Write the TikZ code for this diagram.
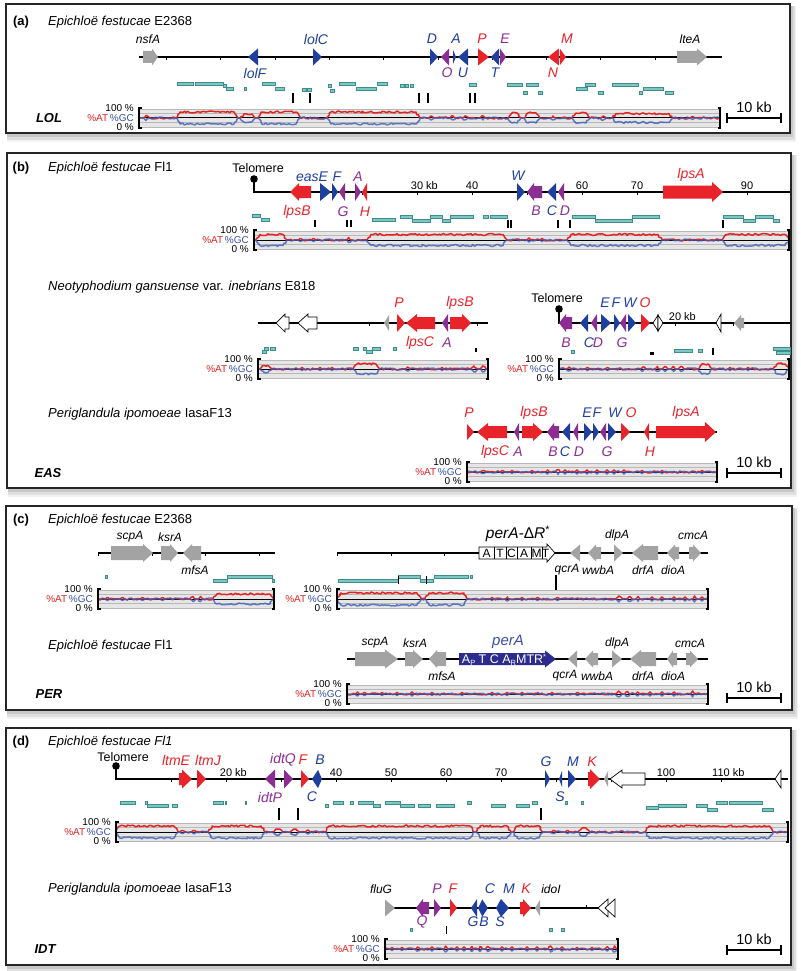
\documentclass[tikz,border=0pt]{standalone}
\usepackage{fontspec}
\setmainfont{Liberation Sans}
\usetikzlibrary{decorations.pathmorphing}
\definecolor{gred}{HTML}{E8232A}
\definecolor{gblue}{HTML}{1F3F9F}
\definecolor{gpurple}{HTML}{8B2D93}
\definecolor{ggrey}{HTML}{A3A3A3}
\definecolor{tealf}{HTML}{7CC8C4}
\definecolor{teald}{HTML}{3F8C8A}
\definecolor{navy}{HTML}{2C2C8E}
\definecolor{pred}{HTML}{E52222}
\definecolor{pblue}{HTML}{3A5BB8}
\definecolor{lblue}{HTML}{3A50A8}
\definecolor{bandgrey}{HTML}{E6E6E6}
\definecolor{bandline}{HTML}{B8B8B8}
% gene triangle: base, tip, y, half-height, style
\newcommand\gtri[5]{\path[#5] (#1,#3-#4) -- (#2,#3) -- (#1,#3+#4) -- cycle;}
% gene arrow: base, headstart, tip, y, body half, head half, style
\newcommand\garr[7]{\path[#7] (#1,#4-#5) -- (#2,#4-#5) -- (#2,#4-#6) -- (#3,#4) -- (#2,#4+#6) -- (#2,#4+#5) -- (#1,#4+#5) -- cycle;}
% contig box
\newcommand\ctg[3]{\filldraw[fill=tealf, draw=teald, line width=0.4] (#1,#3-1.6) rectangle (#2,#3+1.6);}
% black bar
\newcommand\blk[3]{\draw[line width=1.4] (#1,#2) -- (#1,#3);}
% GC plot: x0, x1, yc, list a/b/h
\newcommand\gcplot[4]{%
  \fill[bandgrey] (#1,#3-9) rectangle (#2,#3+9);
  \foreach \yy in {-9,-4.5,4.5,9}{\draw[bandline, line width=0.5] (#1,#3+\yy) -- (#2,#3+\yy);}
  \draw[line width=1.0] (#1,#3) -- (#2,#3);
  \draw[pred, curve] (#1,#3) foreach \a/\b/\h in {#4}{ -- (\a,#3) -- ({\a+min(4,0.5*(\b-\a))},{#3-\h}) -- ({\b-min(4,0.5*(\b-\a))},{#3-\h}) -- (\b,#3)} -- (#2,#3);
  \draw[pblue, curve, opacity=0.8] (#1,#3) foreach \a/\b/\h in {#4}{ -- (\a,#3) -- ({\a+min(4,0.5*(\b-\a))},{#3+\h}) -- ({\b-min(4,0.5*(\b-\a))},{#3+\h}) -- (\b,#3)} -- (#2,#3);
  \draw[line width=1.2] (#1+2.5,#3-10) -- (#1,#3-10) -- (#1,#3+10) -- (#1+2.5,#3+10);
  \draw[line width=1.2] (#2-2.5,#3-10) -- (#2,#3-10) -- (#2,#3+10) -- (#2-2.5,#3+10);
  \node[plab] at (#1-5,#3-9.5) {100 \%};
  \node[plab] at (#1-5,#3) {\textcolor{pred}{\%AT}\,\textcolor{lblue}{\%GC}};
  \node[plab] at (#1-5,#3+9.5) {0 \%};
}
\newcommand\panelbox[4]{%
  \fill[black,opacity=0.05] (#1+1,#2+2) rectangle (#3+6,#4+9);
  \fill[black,opacity=0.08] (#1+1,#2+2) rectangle (#3+4.5,#4+6.5);
  \fill[black,opacity=0.10] (#1+1,#2+2) rectangle (#3+3,#4+4);
  \fill[white] (#1,#2) rectangle (#3,#4);
  \draw[line width=1.3, black!85] (#1,#2) rectangle (#3,#4);}
\newcommand\scalebar[1]{%
  \draw[line width=1.2] (727,#1) -- (781,#1);
  \draw[line width=1.2] (727,#1-5) -- (727,#1+5) (781,#1-5) -- (781,#1+5);
  \node[kb] at (754,#1-11) {10 kb};}
\begin{document}
\begin{tikzpicture}[x=1pt,y=-1pt,
  glab/.style={inner sep=0pt, font=\fontsize{14}{14}\selectfont\itshape},
  slab/.style={inner sep=0pt, font=\fontsize{12}{12}\selectfont\itshape},
  sp/.style={anchor=west, inner sep=0pt, font=\fontsize{13}{13}\selectfont},
  pl/.style={inner sep=0pt, font=\fontsize{13}{13}\selectfont\bfseries},
  cl/.style={inner sep=0pt, font=\fontsize{13}{13}\selectfont\bfseries\itshape},
  tk/.style={inner sep=0pt, anchor=south, font=\fontsize{11}{11}\selectfont},
  tel/.style={inner sep=0pt, font=\fontsize{12.5}{12.5}\selectfont},
  plab/.style={inner sep=0pt, anchor=east, font=\fontsize{10}{10}\selectfont},
  kb/.style={inner sep=0pt, font=\fontsize{14.5}{14.5}\selectfont},
  axis/.style={line width=1.2},
  curve/.style={line width=1.5, line join=round, decorate, decoration={random steps,segment length=2pt,amplitude=1pt}},
  gr/.style={fill=gred}, gb/.style={fill=gblue}, gp/.style={fill=gpurple},
  gg/.style={fill=ggrey}, wst/.style={fill=white,draw=black,line width=0.7},
  nv/.style={fill=navy}]
\useasboundingbox (0,0) rectangle (800,971);
\fill[white] (0,0) rectangle (800,971);

%================ (a) ================
\panelbox{6}{4}{790}{133}
\node[pl] at (21,22) {(a)};
\node[sp] at (48,22) {\textit{Epichloë festucae} E2368};
\draw[axis] (139,57) -- (722,57);
\foreach \x in {166,220,275,329,383,438,492,546,600,655} \draw[line width=0.9] (\x,57) -- (\x,60);
\garr{143}{152}{158}{57}{6}{8.5}{gg}
\node[slab] at (148,39) {nsfA};
\gtri{258}{248}{57}{8.5}{gb} \node[glab,text=gblue] at (255,73) {lolF};
\gtri{313}{322}{57}{8.5}{gb} \node[glab,text=gblue] at (316,39) {lolC};
\gtri{430}{438}{57}{8.5}{gb} \node[glab,text=gblue] at (432,39) {D};
\gtri{449}{441}{57}{8.5}{gp} \node[glab,text=gpurple] at (447,73) {O};
\gtri{453}{456}{57}{7}{gb}   \node[glab,text=gblue] at (456,39) {A};
\gtri{468}{458}{57}{8.5}{gb} \node[glab,text=gblue] at (463,73) {U};
\gtri{478}{489}{57}{8.5}{gr} \node[glab,text=gred] at (482,39) {P};
\gtri{499}{491}{57}{8.5}{gb} \node[glab,text=gblue] at (495,73) {T};
\gtri{500}{506}{57}{8.5}{gp} \node[glab,text=gpurple] at (505,39) {E};
\gtri{559}{548}{57}{8.5}{gr} \node[glab,text=gred] at (553,73) {N};
\gtri{560}{566}{57}{8}{gr}   \node[glab,text=gred] at (567,39) {M};
\garr{677}{697}{707}{57}{6}{8.5}{gg}
\node[slab] at (690,39) {lteA};
% contigs
\ctg{177}{193}{84}\ctg{195}{223}{84}\ctg{262}{275}{84}\ctg{339}{355}{84}\ctg{377}{387}{84}
\ctg{226}{233}{89}\ctg{275}{284}{89}\ctg{356}{376}{89}
\ctg{223}{226}{86}\ctg{244}{246}{89}\ctg{302}{306}{90}\ctg{307}{311}{90}\ctg{328}{331}{86}\ctg{330}{334}{91}
\ctg{400}{404}{86}\ctg{405}{408}{86}\ctg{410}{413}{86}\ctg{469}{476}{85}
\ctg{507}{522}{85}\ctg{526}{538}{85}\ctg{585}{595}{85}\ctg{612}{638}{85}
\ctg{576}{587}{89}\ctg{643}{663}{89}
\ctg{523}{527}{93}\ctg{538}{542}{93}\ctg{598}{603}{93}\ctg{639}{642}{93}\ctg{665}{673}{93}
\blk{293}{93}{103}\blk{310}{93}{103}\blk{419}{93}{103}\blk{428}{93}{103}\blk{470}{93}{103}\blk{475}{93}{103}
\gcplot{139}{720}{118}{142/150/2.5, 176/238/6, 240/256/4, 258/300/6, 327/420/6, 428/434/2, 450/456/2, 462/468/2, 480/486/2, 508/521/5, 524/540/5, 550/556/2, 572/590/5, 600/606/2, 612/673/4.5, 690/695/1.5}
\node[cl] at (49,118) {LOL};
\scalebar{118}

%================ (b) ================
\panelbox{7}{153}{791}{488}
\node[pl] at (21,168) {(b)};
\node[sp] at (48,168) {\textit{Epichloë festucae} Fl1};
\node[tel] at (258,168) {Telomere};
\fill (254,179) circle (3.8);
\draw[axis] (254,179) -- (254,192) -- (790,192);
\foreach \x in {307,362,417,472,527,582,637,692,747} \draw[line width=0.9] (\x,192) -- (\x,195);
\node[tk] at (417,190) {30\rlap{\ kb}};
\node[tk] at (472,190) {40};
\node[tk] at (582,190) {60};
\node[tk] at (637,190) {70};
\node[tk] at (747,190) {90};
\garr{311}{299}{290}{192}{6}{9}{gr} \node[glab,text=gred] at (297,212) {lpsB};
\gtri{320}{331}{192}{9}{gb} \node[glab,text=gblue] at (312,177) {easE};
\gtri{332}{338}{192}{9}{gb} \node[glab,text=gblue] at (337,177) {F};
\gtri{345}{339}{192}{9}{gp} \node[glab,text=gpurple] at (343,212) {G};
\gtri{355}{361}{192}{9}{gp} \node[glab,text=gpurple] at (358,177) {A};
\gtri{367}{362}{192}{9}{gr} \node[glab,text=gred] at (365,212) {H};
\gtri{517}{525}{192}{9}{gb} \node[glab,text=gblue] at (518,176) {W};
\garr{542}{534}{527}{192}{6}{9}{gp} \node[glab,text=gpurple] at (536,211) {B};
\gtri{556}{547}{192}{9}{gb} \node[glab,text=gblue] at (552,211) {C};
\gtri{564}{558}{192}{9}{gp} \node[glab,text=gpurple] at (565,211) {D};
\garr{663}{712}{723}{192}{6.5}{10}{gr} \node[glab,text=gred] at (691,175) {lpsA};
\ctg{252}{260}{216}\ctg{261}{269}{220}\ctg{372}{395}{220}
\ctg{400}{412}{217}\ctg{412}{430}{221}\ctg{430}{442}{217}\ctg{442}{450}{221}\ctg{450}{473}{217}
\ctg{483}{488}{217}\ctg{490}{507}{217}\ctg{572}{595}{217}\ctg{595}{632}{221}\ctg{632}{659}{217}
\ctg{723}{743}{217}\ctg{743}{755}{221}\ctg{755}{773}{217}\ctg{773}{779}{221}
\blk{315}{220}{227}\blk{347}{220}{227}\blk{351}{220}{227}\blk{508}{220}{228}\blk{511}{220}{228}
\blk{558}{220}{228}\draw[line width=2.4] (570,220) -- (570,228);\blk{723}{220}{228}
\gcplot{254}{789}{240}{256/287/5.5, 298/303/1.5, 311/316/1.5, 345/352/2.5, 367/507/5.5, 527/531/2, 540/544/1.5, 567/662/5.5, 722/789/5.5}

% E818
\node[sp] at (48,287) {\textit{Neotyphodium gansuense} var. \textit{inebrians} E818};
\draw[axis] (258,323) -- (488,323);
\draw[line width=0.9] (369,323) -- (369,326) (477,323) -- (477,326);
\garr{289}{285}{276}{323}{6}{9}{wst}
\garr{317}{308}{298}{323}{6}{9}{wst}
\gtri{389}{384}{323}{8}{gg}
\gtri{397}{405}{323}{9}{gr} \node[glab,text=gred] at (399,303) {P};
\garr{435}{417}{406}{323}{6}{9}{gr} \node[glab,text=gred] at (420,343) {lpsC};
\gtri{448}{442}{323}{9}{gp} \node[glab,text=gpurple] at (447,343) {A};
\garr{450}{462}{471}{323}{6}{9}{gr} \node[glab,text=gred] at (460,303) {lpsB};
\ctg{262}{266}{352}\ctg{264}{268}{349}\ctg{270}{275}{349}
\ctg{353}{358}{349}\ctg{363}{366}{349}\ctg{366}{372}{352}\ctg{372}{380}{349}\ctg{393}{396}{349}
\blk{476}{348}{352}
\gcplot{258}{488}{369}{260/272/3.5, 300/304/1.5, 318/322/1.5, 330/334/1.5, 353/380/5, 405/410/2, 440/444/1.5, 470/478/3, 479/486/3}

\node[tel] at (557,298) {Telomere};
\fill (559,309) circle (3.8);
\draw[axis] (559,309) -- (559,323) -- (790,323);
\draw[line width=0.9] (675,323) -- (675,326) (733,323) -- (733,326);
\node[tk] at (675,321) {20\rlap{\ kb}};
\garr{572}{566}{559}{323}{6}{9}{gp} \node[glab,text=gpurple] at (566,343) {B};
\gtri{588}{580}{323}{9}{gb} \node[glab,text=gblue] at (589,343) {C};
\gtri{597}{591}{323}{9}{gp} \node[glab,text=gpurple] at (598,343) {D};
\gtri{601}{611}{323}{9}{gb} \node[glab,text=gblue] at (605,303) {E};
\gtri{614}{620}{323}{9}{gb} \node[glab,text=gblue] at (616,303) {F};
\gtri{626}{620}{323}{9}{gp} \node[glab,text=gpurple] at (622,343) {G};
\gtri{628}{636}{323}{9}{gb} \node[glab,text=gblue] at (630,303) {W};
\gtri{641}{650}{323}{9}{gr} \node[glab,text=gred] at (645,303) {O};
\gtri{658}{653}{323}{8}{wst}\gtri{658}{663}{323}{8}{wst}
\gtri{721}{716}{323}{9}{wst}
\garr{744}{741}{734}{323}{5}{8}{gg}
\ctg{571}{574}{352}\ctg{674}{692}{351}\ctg{698}{702}{351}\ctg{773}{790}{349}\ctg{776}{790}{353}
\blk{651}{352}{355}\blk{653}{352}{355}\blk{713}{348}{355}
\gcplot{559}{789}{369}{566/572/2, 585/590/1.5, 605/610/1.5, 640/646/2, 655/660/2.5, 662/668/2.5, 671/676/2.5, 678/684/2.5, 698/712/5, 728/732/1.5, 746/750/1.5, 773/789/5}

% IasaF13
\node[sp] at (48,414) {\textit{Periglandula ipomoeae} IasaF13};
\draw[axis] (467,432) -- (717,432);
\gtri{467}{474}{432}{8}{gr} \node[glab,text=gred] at (469,413) {P};
\garr{507}{488}{477}{432}{6}{9}{gr} \node[glab,text=gred] at (495,452) {lpsC};
\gtri{519}{514}{432}{9}{gp} \node[glab,text=gpurple] at (518,452) {A};
\garr{522}{533}{543}{432}{6}{9}{gr} \node[glab,text=gred] at (534,413) {lpsB};
\garr{559}{554}{547}{432}{6}{9}{gp} \node[glab,text=gpurple] at (553,452) {B};
\gtri{570}{562}{432}{9}{gb} \node[glab,text=gblue] at (565,452) {C};
\gtri{578}{573}{432}{9}{gp} \node[glab,text=gpurple] at (579,452) {D};
\gtri{584}{592}{432}{9}{gb} \node[glab,text=gblue] at (587,413) {E};
\gtri{593}{599}{432}{9}{gb} \node[glab,text=gblue] at (597,413) {F};
\gtri{606}{600}{432}{9}{gp} \node[glab,text=gpurple] at (607,452) {G};
\gtri{608}{616}{432}{9}{gb} \node[glab,text=gblue] at (615,413) {W};
\gtri{621}{630}{432}{9}{gr} \node[glab,text=gred] at (631,413) {O};
\gtri{649}{644}{432}{9}{gr} \node[glab,text=gred] at (650,452) {H};
\garr{656}{705}{716}{432}{6}{10}{gr} \node[glab,text=gred] at (686,413) {lpsA};
\gcplot{467}{717}{472}{480/486/1.5, 500/505/1.5, 510/514/1.5, 530/534/1.5, 545/550/2, 556/560/2.5, 563/567/2, 575/579/2, 585/589/2, 595/599/2, 605/609/2, 612/616/2, 622/626/2, 640/644/1.5, 660/664/1.5, 700/704/1.5}
\node[cl] at (48,473) {EAS};
\scalebar{473}

%================ (c) ================
\panelbox{6}{506}{792}{710}
\node[pl] at (21,520) {(c)};
\node[sp] at (48,520) {\textit{Epichloë festucae} E2368};
\draw[axis] (98,553) -- (275,553);
\foreach \x in {98,152,205,259} \draw[line width=0.9] (\x,553) -- (\x,556);
\garr{111}{143}{153}{553}{7}{9}{gg} \node[slab] at (130,537) {scpA};
\garr{161}{170}{178}{553}{7}{9}{gg} \node[slab] at (170,537) {ksrA};
\garr{201}{192}{183}{553}{7}{9}{gg} \node[slab] at (195,570) {mfsA};
\ctg{105}{107}{577}\ctg{213}{227}{581}\ctg{227}{272}{577}\ctg{272}{274}{581}
\gcplot{98}{274}{599}{105/110/1.5, 120/125/1.5, 140/145/1.5, 160/165/1.5, 190/196/2.5, 198/203/2.5, 213/274/5}

\draw[axis] (337,553) -- (708,553);
\foreach \x in {337,391,444} \draw[line width=0.9] (\x,553) -- (\x,556);
\path[wst] (479,547) -- (547,547) -- (547,544) -- (555,553) -- (547,562) -- (547,559) -- (479,559) -- cycle;
\foreach \x in {494,506,517,531,542} \draw[line width=0.7] (\x,547) -- (\x,559);
\foreach \x/\t in {486.5/A,500/T,511.5/C,524/A,536.5/M,545.5/T} \node[inner sep=0pt, font=\fontsize{12}{12}\selectfont] at (\x,553.5) {\t};
\node[inner sep=0pt, font=\fontsize{15.5}{15.5}\selectfont] at (518,534) {\textit{perA-}Δ\textit{R}\textsuperscript{*}};
\gtri{580}{570}{553}{8.5}{gg} \node[slab] at (567,570) {qcrA};
\garr{601}{596}{588}{553}{6}{8.5}{gg} \node[slab] at (598,570) {wwbA};
\gtri{614}{623}{553}{8.5}{gg} \node[slab] at (617,535) {dlpA};
\garr{658}{643}{632}{553}{7}{9}{gg} \node[slab] at (643,570) {drfA};
\garr{679}{675}{667}{553}{6}{8.5}{gg} \node[slab] at (673,570) {dioA};
\garr{689}{693}{701}{553}{6}{8.5}{gg} \node[slab] at (693,535) {cmcA};
\ctg{338}{398}{581}\ctg{398}{420}{577}\ctg{420}{433}{581}\ctg{434}{468}{577}\ctg{470}{472}{577}
\draw[line width=0.6] (398,576) -- (398,584) (426,576) -- (426,584);
\draw[line width=1.2] (556,575) -- (556,590);
\gcplot{337}{708}{599}{337/421/6, 425/468/6, 490/494/1.5, 505/510/2, 520/524/1.5, 535/540/1.5, 555/560/1.5, 615/623/3, 627/632/2.5, 636/640/2.5, 650/654/2, 660/664/2, 672/676/2, 683/687/2, 692/697/3, 700/704/2}

\node[sp] at (48,646) {\textit{Epichloë festucae} Fl1};
\draw[axis] (347,659) -- (708,659);
\garr{355}{385}{398}{659}{7}{9.5}{gg} \node[slab] at (375,643) {scpA};
\garr{405}{413}{423}{659}{7}{9}{gg} \node[slab] at (415,643) {ksrA};
\garr{446}{437}{429}{659}{7}{9}{gg} \node[slab] at (442,676) {mfsA};
\garr{459}{545}{556}{659}{6}{8.5}{nv}
\node[inner sep=0pt, text=white, font=\fontsize{12.5}{12.5}\selectfont] at (504,659.5) {A\raisebox{-0.2ex}{\fontsize{7.5}{7.5}\selectfont P} T C A\raisebox{-0.2ex}{\fontsize{7.5}{7.5}\selectfont R}MTR\raisebox{0.7ex}{\fontsize{7.5}{7.5}\selectfont *}};
\node[inner sep=0pt, text=lblue, font=\fontsize{15}{15}\selectfont\itshape] at (508,642) {perA};
\gtri{577}{568}{659}{8.5}{gg} \node[slab] at (565,676) {qcrA};
\garr{598}{593}{585}{659}{6}{8.5}{gg} \node[slab] at (597,676) {wwbA};
\gtri{612}{622}{659}{8.5}{gg} \node[slab] at (617,643) {dlpA};
\garr{656}{641}{630}{659}{7}{9}{gg} \node[slab] at (643,676) {drfA};
\garr{677}{673}{667}{659}{6}{8.5}{gg} \node[slab] at (673,676) {dioA};
\garr{686}{690}{698}{659}{6}{8.5}{gg} \node[slab] at (690,643) {cmcA};
\gcplot{347}{708}{694}{355/360/2, 362/367/1.5, 380/384/1.5, 395/399/1.5, 410/414/2, 430/434/1.5, 460/464/1.5, 490/494/1.5, 505/509/1.5, 520/524/1.5, 550/554/1.5, 575/580/1.5, 615/622/3, 625/630/2.5, 635/640/2, 648/652/2, 660/664/2, 672/676/2, 690/695/3}
\node[cl] at (49,694) {PER};
\scalebar{698}

%================ (d) ================
\panelbox{6}{728}{791}{965}
\node[pl] at (21,742) {(d)};
\node[sp] at (48,742) {\textit{Epichloë festucae Fl1}};
\node[tel] at (123,757) {Telomere};
\fill (116,766) circle (3.8);
\draw[axis] (116,766) -- (116,779) -- (788,779);
\foreach \k in {1,...,11} \draw[line width=0.9] (116+55*\k,779) -- (116+55*\k,782);
\node[tk] at (226,777) {20\rlap{\ kb}};
\node[tk] at (336,777) {40};
\node[tk] at (391,777) {50};
\node[tk] at (446,777) {60};
\node[tk] at (501,777) {70};
\node[tk] at (666,777) {100};
\node[tk] at (721,777) {110\rlap{\ kb}};
\garr{179}{182}{192}{779}{6}{9.5}{gr} \node[glab,text=gred] at (176,760) {ltmE};
\gtri{197}{206}{779}{9.5}{gr} \node[glab,text=gred] at (208,760) {ltmJ};
\gtri{275}{265}{779}{9.5}{gp} \node[glab,text=gpurple] at (270,797) {idtP};
\gtri{284}{293}{779}{9.5}{gp} \node[glab,text=gpurple] at (283,760) {idtQ};
\gtri{301}{309}{779}{9}{gr} \node[glab,text=gred] at (303,760) {F};
\gtri{318}{312}{779}{9}{gb} \node[glab,text=gblue] at (312,797) {C};
\gtri{318}{322}{779}{9}{gb} \node[glab,text=gblue] at (320,760) {B};
\gtri{545}{550}{779}{9}{gb} \node[glab,text=gblue] at (546,762) {G};
\gtri{562}{559}{779}{8}{gb} \node[glab,text=gblue] at (560,797) {S};
\gtri{568}{576}{779}{9}{gb} \node[glab,text=gblue] at (573,762) {M};
\garr{588}{590}{600}{779}{7}{10}{gr} \node[glab,text=gred] at (592,762) {K};
\gtri{608}{604}{779}{8}{gg}
\garr{645}{622}{610}{779}{6}{9}{wst}
\gtri{781}{775}{779}{9}{wst}
\ctg{120}{135}{803}\ctg{145}{147}{803}\ctg{147}{168}{806}\ctg{172}{177}{806}\ctg{213}{223}{803}
\ctg{225}{226}{803}\ctg{245}{246}{803}\ctg{325}{328}{806}\ctg{333}{343}{803}\ctg{350}{353}{803}
\ctg{358}{373}{803}\ctg{373}{380}{806}\ctg{385}{400}{803}
\ctg{400}{414}{806}\ctg{418}{430}{806}\ctg{436}{454}{806}\ctg{467}{471}{803}\ctg{491}{505}{806}
\ctg{516}{529}{806}\ctg{532}{537}{803}\ctg{565}{567}{803}\ctg{581}{583}{803}
\ctg{646}{658}{808}\ctg{658}{686}{806}\ctg{696}{707}{806}\ctg{707}{717}{810}\ctg{716}{727}{803}
\ctg{729}{762}{803}\ctg{762}{773}{810}
\blk{279}{808}{820}\blk{298}{808}{820}\blk{541}{808}{820}
\gcplot{116}{788}{832}{116/178/6, 180/186/1.5, 190/196/1.5, 208/265/6, 272/283/3, 290/300/3, 305/310/2, 325/474/6, 476/511/6, 513/543/6, 550/556/1.5, 565/570/1.5, 578/590/4, 645/773/6}

\node[sp] at (48,889) {\textit{Periglandula ipomoeae} IasaF13};
\draw[axis] (385,908) -- (615,908);
\draw[line width=0.9] (586,905) -- (586,908);
\gtri{385}{395}{908}{8.5}{gg} \node[slab] at (381,889) {fluG};
\garr{429}{423}{416}{908}{6}{9}{gp} \node[glab,text=gpurple] at (422,922) {Q};
\gtri{434}{441}{908}{9}{gp} \node[glab,text=gpurple] at (437,889) {P};
\gtri{450}{457}{908}{9}{gr} \node[glab,text=gred] at (453,889) {F};
\gtri{477}{471}{908}{9}{gb} \node[glab,text=gblue] at (473,922) {G};
\gtri{482}{478}{908}{8}{gb} \node[glab,text=gblue] at (490,889) {C};
\gtri{482}{488}{908}{9}{gb} \node[glab,text=gblue] at (484,922) {B};
\gtri{501}{496}{908}{9}{gb} \node[glab,text=gblue] at (500,922) {S};
\gtri{501}{509}{908}{9}{gb} \node[glab,text=gblue] at (509,889) {M};
\garr{520}{523}{531}{908}{6}{9}{gr} \node[glab,text=gred] at (526,889) {K};
\gtri{540}{535}{908}{8}{gg} \node[slab] at (551,889) {idoI};
\gtri{608}{598}{908}{9}{wst}\gtri{615}{605}{908}{9}{wst}
\ctg{410}{412}{930}\ctg{549}{552}{930}\ctg{561}{564}{930}
\draw[line width=0.6] (446,926) -- (446,934);
\gcplot{385}{618}{949}{390/394/1.5, 400/404/1.5, 415/420/2, 430/434/2, 443/448/3, 455/459/2, 462/466/2, 470/474/2.5, 478/482/2.5, 485/490/2.5, 500/504/2, 510/514/2, 525/529/2, 535/539/2, 548/553/3, 560/564/2, 575/579/1.5, 590/594/1.5, 605/610/2, 612/617/3}
\node[cl] at (45,949) {IDT};
\scalebar{950}
\end{tikzpicture}
\end{document}
